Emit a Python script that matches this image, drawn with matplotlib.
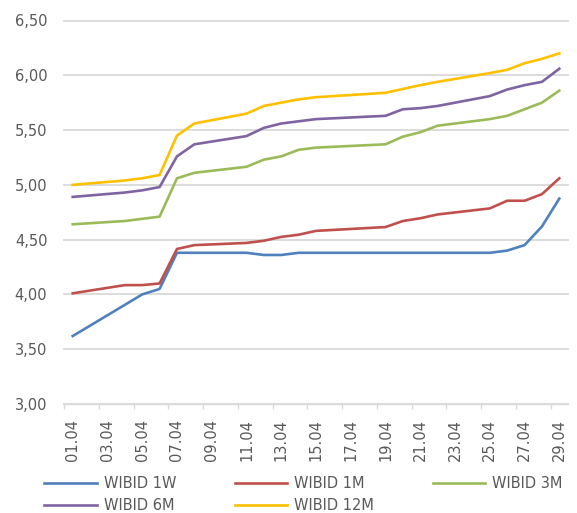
import matplotlib
matplotlib.use("Agg")
from matplotlib import pyplot as plt

# WIBID fixings, April (business days only, lines join across weekends)
dates = ["01.04", "04.04", "05.04", "06.04", "07.04", "08.04", "11.04", "12.04",
         "13.04", "14.04", "15.04", "19.04", "20.04", "21.04", "22.04", "25.04",
         "26.04", "27.04", "28.04", "29.04"]

wibid_1w = [3.62, 3.905, 4.00, 4.05, 4.38, 4.38, 4.38, 4.36, 4.36, 4.38,
            4.38, 4.38, 4.38, 4.38, 4.38, 4.38, 4.40, 4.45, 4.62, 4.875]
wibid_1m = [4.01, 4.085, 4.085, 4.10, 4.415, 4.45, 4.47, 4.49, 4.525, 4.545,
            4.58, 4.615, 4.67, 4.695, 4.73, 4.785, 4.855, 4.855, 4.915, 5.06]
wibid_3m = [4.64, 4.67, 4.69, 4.71, 5.06, 5.11, 5.165, 5.23, 5.26, 5.32,
            5.34, 5.37, 5.44, 5.48, 5.54, 5.60, 5.63, 5.69, 5.75, 5.86]
wibid_6m = [4.89, 4.93, 4.95, 4.98, 5.26, 5.37, 5.445, 5.52, 5.56, 5.58,
            5.60, 5.63, 5.69, 5.70, 5.72, 5.81, 5.87, 5.91, 5.94, 6.06]
wibid_12m = [5.00, 5.04, 5.06, 5.09, 5.45, 5.56, 5.65, 5.72, 5.75, 5.78,
             5.80, 5.84, 5.875, 5.91, 5.94, 6.02, 6.05, 6.11, 6.15, 6.20]

tick_labels = ["01.04", "03.04", "05.04", "07.04", "09.04", "11.04", "13.04",
               "15.04", "17.04", "19.04", "21.04", "23.04", "25.04", "27.04",
               "29.04"]
y_ticks = [3.0, 3.5, 4.0, 4.5, 5.0, 5.5, 6.0, 6.5]

series = [
    ("WIBID 1W", wibid_1w, "#4F81BD"),
    ("WIBID 1M", wibid_1m, "#C0504D"),
    ("WIBID 3M", wibid_3m, "#9BBB59"),
    ("WIBID 6M", wibid_6m, "#8064A2"),
    ("WIBID 12M", wibid_12m, "#FFC000"),
]

grey = "#595959"
light = "#D9D9D9"

days = [int(d[:2]) for d in dates]

fig = plt.figure(figsize=(5.77, 5.13), dpi=100)
ax = fig.add_axes([64 / 577, 1 - 404 / 513, (568 - 64) / 577, (404 - 20.5) / 513])

lines = {}
for name, vals, col in series:
    (ln,) = ax.plot(days, vals, color=col, lw=1.9, label=name, solid_joinstyle="round")
    lines[name] = ln

ax.set_xlim(0.5, 29.5)
ax.set_ylim(3.0, 6.5)

ax.set_yticks(y_ticks)
ax.set_yticklabels([f"{v:.2f}".replace(".", ",") for v in y_ticks])
ax.yaxis.grid(True, color=light, lw=1.3)
ax.set_axisbelow(True)
for gl in ax.get_ygridlines():
    gl.set_clip_on(False)

ax.set_xticks([int(t[:2]) for t in tick_labels])
ax.set_xticklabels(tick_labels, rotation=90)
ax.set_xticks([k + 0.5 for k in range(0, 29, 2)], minor=True)

ax.tick_params(axis="x", which="major", length=0, pad=11, labelsize=10.5, labelcolor=grey)
ax.tick_params(axis="x", which="minor", length=3.6, width=1, color=light)
ax.tick_params(axis="y", length=0, pad=12, labelsize=10.5, labelcolor=grey)

for s in ["top", "right", "left"]:
    ax.spines[s].set_visible(False)
ax.spines["bottom"].set_color(light)
ax.spines["bottom"].set_linewidth(1.0)

# row-major order like the original legend
order = ["WIBID 1W", "WIBID 6M", "WIBID 1M", "WIBID 12M", "WIBID 3M"]
leg = fig.legend([lines[n] for n in order], order, ncol=3, loc="upper left",
                 bbox_to_anchor=(44 / 577, 1 - 476 / 513), frameon=False,
                 borderaxespad=0, borderpad=0, handlelength=3.6, handletextpad=0.5,
                 columnspacing=4.0, labelspacing=0.5, fontsize=10.5)
for t in leg.get_texts():
    t.set_color(grey)

fig.savefig("out.png", dpi=100)
